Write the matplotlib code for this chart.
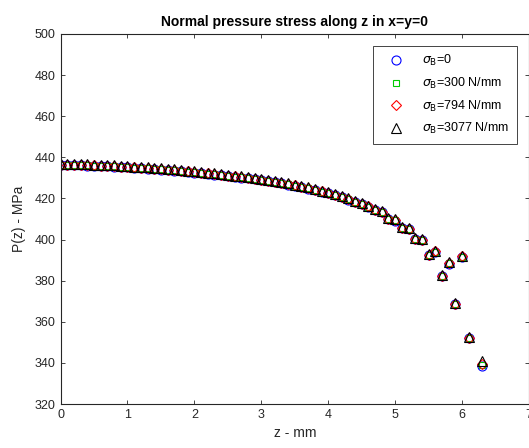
import matplotlib.pyplot as plt

plt.rcParams['font.family'] = ['Liberation Sans', 'DejaVu Sans']

# depth z (mm) -- no sample at 6.2
z = [0.0, 0.1, 0.2, 0.3, 0.4, 0.5, 0.6, 0.7, 0.8, 0.9,
     1.0, 1.1, 1.2, 1.3, 1.4, 1.5, 1.6, 1.7, 1.8, 1.9,
     2.0, 2.1, 2.2, 2.3, 2.4, 2.5, 2.6, 2.7, 2.8, 2.9,
     3.0, 3.1, 3.2, 3.3, 3.4, 3.5, 3.6, 3.7, 3.8, 3.9,
     4.0, 4.1, 4.2, 4.3, 4.4, 4.5, 4.6, 4.7, 4.8, 4.9,
     5.0, 5.1, 5.2, 5.3, 5.4, 5.5, 5.6, 5.7, 5.8, 5.9,
     6.0, 6.1, 6.3]

# P(z) in MPa for each sigma_B
p_0 = [436.3, 436.2, 436.2, 436.1, 436.0, 435.9, 435.8, 435.6, 435.5, 435.3,
       435.1, 434.9, 434.7, 434.5, 434.3, 434.0, 433.8, 433.5, 433.2, 432.9,
       432.6, 432.3, 432.0, 431.6, 431.3, 430.9, 430.5, 430.1, 429.7, 429.3,
       428.8, 428.3, 427.8, 427.3, 426.7, 426.1, 425.4, 424.8, 424.0, 423.2,
       422.4, 421.5, 420.5, 419.4, 418.3, 417.2, 415.9, 414.3, 413.2, 410.0,
       409.2, 405.5, 405.1, 400.1, 399.7, 392.4, 394.0, 382.3, 388.3, 368.5,
       391.6, 352.0, 338.6]
p_300 = [436.4, 436.3, 436.3, 436.2, 436.1, 436.0, 435.9, 435.7, 435.6, 435.4,
         435.2, 435.0, 434.8, 434.6, 434.4, 434.1, 433.9, 433.6, 433.3, 433.0,
         432.7, 432.4, 432.1, 431.7, 431.4, 431.0, 430.6, 430.2, 429.8, 429.4,
         428.9, 428.4, 427.9, 427.4, 426.8, 426.2, 425.5, 424.9, 424.1, 423.3,
         422.5, 421.6, 420.6, 419.5, 418.4, 417.3, 416.0, 414.4, 413.3, 410.1,
         409.3, 405.6, 405.2, 400.2, 399.8, 392.5, 394.1, 382.4, 388.4, 368.6,
         391.7, 352.1, 339.0]
p_794 = [436.5, 436.4, 436.4, 436.3, 436.2, 436.1, 436.0, 435.8, 435.7, 435.5,
         435.3, 435.1, 434.9, 434.7, 434.5, 434.2, 434.0, 433.7, 433.4, 433.1,
         432.8, 432.5, 432.2, 431.8, 431.5, 431.1, 430.7, 430.3, 429.9, 429.5,
         429.0, 428.5, 428.0, 427.5, 426.9, 426.3, 425.6, 425.0, 424.2, 423.4,
         422.6, 421.7, 420.7, 419.6, 418.5, 417.4, 416.1, 414.5, 413.4, 410.2,
         409.4, 405.7, 405.3, 400.3, 399.9, 392.6, 394.2, 382.5, 388.5, 368.7,
         391.8, 352.2, 339.6]
p_3077 = [436.9, 436.8, 436.8, 436.7, 436.6, 436.5, 436.4, 436.2, 436.1, 435.9,
          435.7, 435.5, 435.3, 435.1, 434.9, 434.6, 434.4, 434.1, 433.8, 433.5,
          433.2, 432.9, 432.6, 432.2, 431.9, 431.5, 431.1, 430.7, 430.3, 429.9,
          429.4, 428.9, 428.4, 427.9, 427.3, 426.7, 426.0, 425.4, 424.6, 423.8,
          423.0, 422.1, 421.1, 420.0, 418.9, 417.8, 416.5, 414.9, 413.8, 410.6,
          409.8, 406.1, 405.7, 400.7, 400.3, 393.0, 394.6, 382.9, 388.9, 369.1,
          392.2, 352.6, 340.9]

fig = plt.figure(figsize=(5.29, 4.48), dpi=100)
ax = fig.add_axes([0.1144, 0.0982, 0.8856, 0.826])

ax.plot(z, p_0, 'o', color='blue', mfc='none', ms=6.5, mew=0.8, label=r'$\sigma_{\rm B}$=0')
ax.plot(z, p_300, 's', color='#00cc00', mfc='none', ms=5, mew=0.8, label=r'$\sigma_{\rm B}$=300 N/mm')
ax.plot(z, p_794, 'D', color='red', mfc='none', ms=5, mew=0.8, label=r'$\sigma_{\rm B}$=794 N/mm')
ax.plot(z, p_3077, '^', color='black', mfc='none', ms=6.5, mew=0.8, label=r'$\sigma_{\rm B}$=3077 N/mm')

ax.set_xlim(0, 7)
ax.set_ylim(320, 500)
ax.set_xticks(range(0, 8))
ax.set_yticks(range(320, 501, 20))
ax.tick_params(direction='in', top=True, right=True, labelsize=9, colors='#262626',
               length=3, width=0.6)
for s in ax.spines.values():
    s.set_color('#262626')
    s.set_linewidth(0.8)

ax.set_title('Normal pressure stress along z in x=y=0', fontsize=10, fontweight='bold', pad=6)
ax.set_xlabel('z - mm', fontsize=10, color='#262626', labelpad=4)
ax.set_ylabel('P(z) - MPa', fontsize=10, color='#262626', labelpad=6)

leg = ax.legend(loc='upper right', fontsize=9, fancybox=False, edgecolor='#262626',
                borderaxespad=0.95, borderpad=0.6, handlelength=2.5, handletextpad=0.85,
                labelspacing=0.6, framealpha=1)
leg.get_frame().set_linewidth(0.6)

fig.savefig('out.png', dpi=100)
